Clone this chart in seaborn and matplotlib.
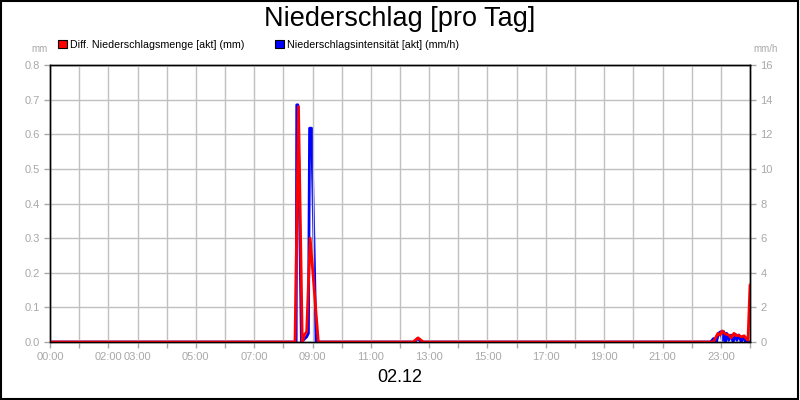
import matplotlib
matplotlib.use("Agg")
import matplotlib.pyplot as plt
from matplotlib.patches import Patch, Rectangle
import pandas as pd
import seaborn as sns

# Diff. Niederschlagsmenge [akt] (mm), left axis
menge_hours = [0.0, 8.40, 8.52, 8.65, 8.72, 8.80, 8.92, 9.20,
               12.45, 12.62, 12.80,
               22.74, 22.90, 22.97, 23.05, 23.12, 23.20, 23.28, 23.35,
               23.45, 23.52, 23.60, 23.70, 23.80, 23.87, 23.93, 24.0]
menge_mm = [0.0, 0.0, 0.68, 0.0, 0.02, 0.03, 0.30, 0.0,
            0.0, 0.012, 0.0,
            0.0, 0.025, 0.02, 0.032, 0.025, 0.022, 0.02, 0.012,
            0.025, 0.018, 0.02, 0.015, 0.018, 0.01, 0.005, 0.165]

# Niederschlagsintensitaet [akt] (mm/h), right axis
intens_hours = [0.0, 8.44, 8.46, 8.50, 8.62, 8.80, 8.86, 8.90, 8.97, 9.12,
                12.50, 12.60, 12.75,
                22.65, 22.75, 22.85, 22.92, 23.00, 23.05, 23.10, 23.15,
                23.20, 23.27, 23.35, 23.42, 23.50, 23.55, 23.62, 23.70,
                23.78, 23.85, 24.0]
intens_mmh = [0.0, 0.0, 13.7, 13.7, 0.0, 0.3, 0.5, 12.35, 12.35, 0.0,
              0.0, 0.2, 0.0,
              0.0, 0.2, 0.0, 0.5, 0.6, 0.1, 0.6, 0.0,
              0.5, 0.1, 0.4, 0.0, 0.45, 0.1, 0.4, 0.0,
              0.3, 0.0, 0.0]

tick_hours = [0, 2, 3, 5, 7, 9, 11, 13, 15, 17, 19, 21, 23]
left_ticks = [0.0, 0.1, 0.2, 0.3, 0.4, 0.5, 0.6, 0.7, 0.8]
right_ticks = [0, 2, 4, 6, 8, 10, 12, 14, 16]

menge = pd.DataFrame({"h": menge_hours, "v": menge_mm})
intens = pd.DataFrame({"h": intens_hours, "v": intens_mmh})

sns.set_style("white")
plt.rcParams['font.family'] = ['Liberation Sans', 'DejaVu Sans']

grey = '#a8a8a8'
gridc = '#c0c0c0'
fig = plt.figure(figsize=(8, 4), dpi=100)
ax = fig.add_axes([0.0625, 0.145, 0.875, 0.6925])
ax2 = ax.twinx()
ax.set_zorder(ax2.get_zorder() + 1)
ax.patch.set_visible(False)

sns.lineplot(data=intens, x="h", y="v", ax=ax2, color='#0000ff', linewidth=2)
sns.lineplot(data=menge, x="h", y="v", ax=ax, color='#ff0000', linewidth=2)

ax.set_xlim(0, 24)
ax.set_ylim(0, 0.8)
ax2.set_ylim(0, 16)

ax.set_xticks(range(25))
ax.set_xticklabels([f"{h:02d}:00" if h in tick_hours else "" for h in range(25)])
ax.set_yticks(left_ticks)
ax.set_yticklabels([f"{v:.1f}" for v in left_ticks])
ax2.set_yticks(right_ticks)
ax2.set_yticklabels([str(v) for v in right_ticks])

# horizontal grid under the blue line, vertical grid on the top axes
ax2.yaxis.grid(True, color=gridc, linewidth=1)
ax2.set_axisbelow(True)
ax.xaxis.grid(True, color=gridc, linewidth=1)
ax.set_axisbelow(True)
for a in (ax, ax2):
    a.set_xlabel("")
    a.set_ylabel("")
    a.tick_params(colors=grey, labelsize=8, length=4, width=1, direction='out')
    for s in a.spines.values():
        s.set_color('black')
        s.set_linewidth(1)
ax.tick_params(axis='both', bottom=True, left=True)
ax2.tick_params(axis='y', right=True)

fig.text(0.5, 0.953, "Niederschlag [pro Tag]", ha='center', va='center',
         fontsize=19.5, color='black')
fig.text(0.5, 0.055, "02.12", ha='center', va='center', fontsize=13, color='black')
fig.text(0.05, 0.878, "mm", ha='center', va='center', fontsize=7, color=grey)
fig.text(0.957, 0.878, "mm/h", ha='center', va='center', fontsize=7, color=grey)

handles = [Patch(facecolor='#ff0000', edgecolor='black', linewidth=0.8),
           Patch(facecolor='#0000ff', edgecolor='black', linewidth=0.8)]
leg = fig.legend(handles, ["Diff. Niederschlagsmenge [akt] (mm)",
                           "Niederschlagsintensität [akt] (mm/h)"],
                 loc='center left', bbox_to_anchor=(0.066, 0.888), ncol=2,
                 frameon=False, fontsize=7.7, handlelength=0.8, handleheight=0.8,
                 handletextpad=0.3, columnspacing=2.9, borderpad=0)
for t in leg.get_texts():
    t.set_color('black')

fig.patches.append(Rectangle((0.001, 0.002), 0.997, 0.996, transform=fig.transFigure,
                             fill=False, edgecolor='black', linewidth=1.5))

fig.savefig("out.png", dpi=100)
